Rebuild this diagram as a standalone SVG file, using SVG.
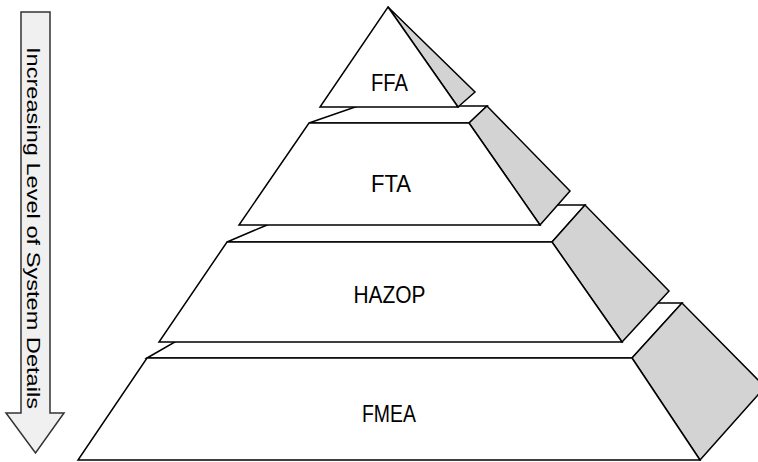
<svg xmlns="http://www.w3.org/2000/svg" width="758" height="462" viewBox="0 0 758 462">
<style>
.face{fill:#ffffff;stroke:#000000;stroke-width:1.5;stroke-linejoin:miter}
.side{fill:#d3d3d3;stroke:#000000;stroke-width:1.5;stroke-linejoin:miter}
.lbl{font-family:"Liberation Sans",Arial,sans-serif;font-size:24px;fill:#000000;text-anchor:middle}
.arrow{fill:#f0f0f0;stroke:#333333;stroke-width:1.5}
.atext{font-family:"Liberation Sans",Arial,sans-serif;font-size:19px;fill:#000000}
</style>
<rect width="758" height="462" fill="#ffffff"/>
<g id="arrow">
<polygon class="arrow" points="21,12 50,12 50,413 64,413 35.5,453 6,413 21,413"/>
<text class="atext" transform="translate(27,47) rotate(90)" textLength="362" lengthAdjust="spacingAndGlyphs">Increasing Level of System Details</text>
</g>
<g id="fmea">
<polygon class="face" points="147,358 175,342 200,303 682,303 632,358"/>
<polygon class="side" points="632,358 682,303 765,387 700,460"/>
<polygon class="face" points="147,358 632,358 700,460 78,460"/>
<text class="lbl" x="389" y="422" textLength="54" lengthAdjust="spacingAndGlyphs">FMEA</text>
</g>
<g id="hazop">
<polygon class="face" points="227,242 267,225 290,205 585,205 552,242"/>
<polygon class="side" points="552,242 585,205 669,291 622,342"/>
<polygon class="face" points="227,242 552,242 622,342 159,342"/>
<text class="lbl" x="389.5" y="303" textLength="72" lengthAdjust="spacingAndGlyphs">HAZOP</text>
</g>
<g id="fta">
<polygon class="face" points="309,123 358,106 487,106 469,123"/>
<polygon class="side" points="469,123 487,106 570,191 540,225"/>
<polygon class="face" points="309,123 469,123 540,225 239,225"/>
<text class="lbl" x="391" y="192" textLength="40" lengthAdjust="spacingAndGlyphs">FTA</text>
</g>
<g id="ffa">
<polygon class="side" points="388,7 475,92 458,107"/>
<polygon class="face" points="388,7 458,107 320,107"/>
<text class="lbl" x="389.5" y="91" textLength="37" lengthAdjust="spacingAndGlyphs">FFA</text>
</g>
</svg>
